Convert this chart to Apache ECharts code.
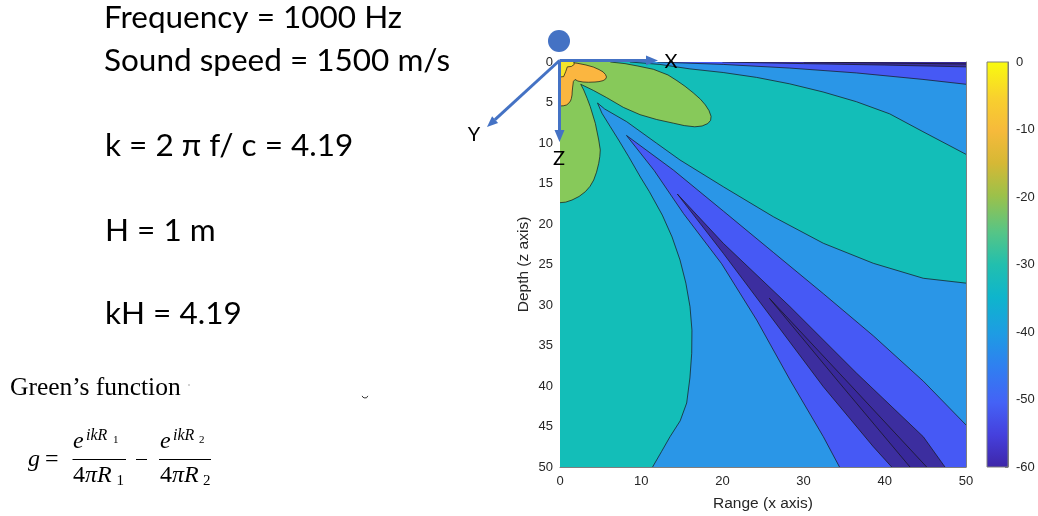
<!DOCTYPE html>
<html>
<head>
<meta charset="utf-8">
<title>Lloyd mirror field</title>
<script src="https://cdn.jsdelivr.net/npm/echarts@6/dist/echarts.min.js"></script>
<style>
  html, body { margin: 0; padding: 0; background: #fff; }
  #main { width: 1038px; height: 516px; }
</style>
</head>
<body>
<div id="main"></div>
<script>
// tick labels
const rangeTicks = [0, 10, 20, 30, 40, 50];
const depthTicks = [0, 5, 10, 15, 20, 25, 30, 35, 40, 45, 50];
const levelTicks = [-60, -50, -40, -30, -20, -10, 0];

// contour band outlines, [range, depth]
// (points at -1 / 51 sit outside the box and get clipped)
const tealBase = [[-1, -1], [51, -1], [51, 51], [-1, 51]];
const lbTop = [[8.6, -1], [8.6, 0], [12.3, 0.3], [16.0, 0.85], [20.1, 1.3], [24.2, 1.9], [28.3, 2.7],
  [32.4, 3.7], [36.5, 4.9], [40.6, 6.4], [44.7, 8.6], [50, 11.4], [51, 11.9], [51, -1]];
const lbLobe = [[4.62, 5.06], [5.17, 6.33], [6.19, 7.98], [7.22, 9.63], [8.46, 11.69], [9.9, 14.2],
  [11.0, 16.0], [12.6, 18.9], [13.8, 21.6], [14.78, 24.44], [15.5, 27.3], [16.01, 30.21], [16.25, 33.1],
  [16.22, 35.96], [16.0, 39.0], [15.6, 42.1], [14.8, 44.3], [13.55, 46.26], [12.5, 48.1], [11.4, 50],
  [11.0, 51], [51, 51], [51, 27.3], [50, 27.3], [44.74, 26.7], [38.58, 24.85], [32.43, 22.38],
  [26.27, 19.1], [20.11, 15.4], [14.78, 12.1], [11.91, 10.04], [8.21, 7.37], [5.5, 5.8]];
const blueTop = [[12, -1], [12, 0], [20.1, 0.3], [28.3, 0.75], [36.5, 1.35], [44.7, 2.15], [50, 2.75], [51, 2.9], [51, -1]];
const blueLobe = [[8.19, 9.07], [11.6, 13.4], [15.2, 18.7], [19.9, 24.9], [24.22, 31.85], [28.33, 39.26],
  [32.43, 46.26], [34.42, 50], [34.9, 51], [51, 51], [51, 44.81], [50, 44.81], [44.74, 39.4],
  [38.58, 33.8], [32.43, 28.6], [26.27, 23.5], [20.11, 18.4], [13.95, 13.33]];
const indigoTop = [[20, -1], [20, 0], [30, 0.2], [40, 0.38], [50, 0.6], [51, 0.62], [51, -1]];
const indigoLobe = [[14.45, 16.3], [20.11, 23.62], [26.27, 31.85], [32.43, 40.09], [38.58, 47.49],
  [40.85, 50], [41.6, 51], [48.4, 51], [47.41, 50], [44.74, 46.26], [36.54, 38.43], [28.33, 30.21],
  [20.11, 22.38]];
const darkTop = [[30, -1], [30, 0], [40, 0.12], [50, 0.25], [51, 0.26], [51, -1]];
const darkLobe = [[25.78, 29.17], [34.4, 39.6], [43.1, 50], [43.9, 51], [45.9, 51], [45.16, 50], [35.5, 39.6]];
const greenLobe = [[-1, -1], [6.2, -1], [6.2, 0], [8.0, 0.2], [9.6, 0.5], [11.5, 0.9], [13.3, 1.6],
  [14.4, 2.3], [15.4, 3.0], [16.4, 3.8], [17.3, 4.6], [17.9, 5.3], [18.35, 6.0], [18.6, 6.7],
  [18.55, 7.2], [18.2, 7.6], [17.5, 7.9], [16.6, 8.0], [15.3, 7.85], [13.95, 7.55], [11.9, 7.1],
  [9.85, 6.5], [7.8, 5.6], [5.75, 4.4], [4.1, 3.5], [2.55, 2.75], [2.92, 3.46], [3.35, 4.5], [3.73, 5.52],
  [4.35, 7.57], [4.77, 9.63], [4.96, 10.86], [4.9, 11.7], [4.77, 12.51], [4.5, 13.6], [4.15, 14.57],
  [3.7, 15.35], [3.12, 16.01], [2.35, 16.6], [1.48, 17.04], [0.7, 17.3], [0, 17.37], [-1, 17.37]];
const orangeLobe = [[-1, -1], [0.9, -1], [0.9, 0], [2.1, 0.15], [3.2, 0.37], [4.1, 0.62], [4.8, 0.93],
  [5.3, 1.22], [5.6, 1.55], [5.73, 1.85], [5.6, 2.12], [5.3, 2.3], [4.8, 2.42], [4.31, 2.47],
  [3.5, 2.5], [2.83, 2.47], [2.2, 2.35], [1.85, 2.16], [1.65, 2.4], [1.56, 3.09], [1.5, 3.7],
  [1.48, 4.07], [1.4, 4.5], [1.29, 4.81], [1.05, 5.12], [0.8, 5.31], [0.4, 5.41], [0, 5.43], [-1, 5.43]];
const yellowCore = [[-1, -1], [1.7, -1], [1.7, 0], [1.75, 0.3], [1.4, 0.55], [0.9, 0.6], [0.7, 1.2],
  [0.45, 1.8], [0, 1.85], [-1, 1.85]];

const bands = [
  ['teal', tealBase], ['lightBlue', lbTop], ['lightBlue', lbLobe], ['blue', blueTop], ['blue', blueLobe],
  ['indigo', indigoTop], ['indigo', indigoLobe], ['dark', darkTop], ['dark', darkLobe],
  ['green', greenLobe], ['orange', orangeLobe], ['yellow', yellowCore]
];

const bandColor = {
  teal: '#13BEB8', lightBlue: '#2A96E7', blue: '#4659F5', indigo: '#3C2E9F', dark: '#38289A',
  green: '#87C95A', orange: '#FBB640', yellow: '#F4E42A'
};
const parula = [
  [0, '#3E26A8'], [0.08, '#4540DD'], [0.16, '#4462F6'], [0.25, '#2F80F0'], [0.33, '#1E9CE3'],
  [0.42, '#0EB5CC'], [0.5, '#22BFAE'], [0.58, '#56C586'], [0.67, '#9CC14A'], [0.75, '#D6B835'],
  [0.83, '#F6BA3B'], [0.91, '#F8D02E'], [1, '#F9FB0E']
];

const blue = '#4472C4';
const calibri = 'Lato, "Open Sans", sans-serif';
const serif = '"Liberation Serif", "DejaVu Serif", serif';

function txt(x, y, text, font, align) {
  return {
    type: 'text', x: x, y: y, z: 100, silent: true,
    style: { text: text, font: font, fill: '#000', align: align || 'left', verticalAlign: 'middle' }
  };
}
function frac(x, y, idx) {
  // denominator "4 pi R" with upright 4, italic pi R
  return {
    type: 'text', x: x, y: y, z: 100, silent: true,
    style: {
      text: '{n|4}{i|\u03c0R}', fill: '#000', verticalAlign: 'middle',
      rich: { n: { font: '24px ' + serif }, i: { font: 'italic 24px ' + serif } }
    }
  };
}
function rule(x1, x2, y) {
  return { type: 'line', z: 100, silent: true, shape: { x1: x1, y1: y, x2: x2, y2: y }, style: { stroke: '#000', lineWidth: 1 } };
}
function arrowLine(x1, y1, x2, y2) {
  return { type: 'line', z: 100, silent: true, shape: { x1: x1, y1: y1, x2: x2, y2: y2 }, style: { stroke: blue, lineWidth: 3 } };
}
function arrowHead(points) {
  return { type: 'polygon', z: 100, silent: true, shape: { points: points }, style: { fill: blue } };
}

const chart = echarts.init(document.getElementById('main'));

const axisGrey = '#7f7f7f';
const labelColor = '#262626';
const boxAxis = function (extra) {
  return Object.assign({
    type: 'value', splitLine: { show: false },
    axisLine: { show: true, onZero: false, lineStyle: { color: axisGrey, width: 1 } },
    axisTick: { show: true, inside: true, length: 4, lineStyle: { color: axisGrey } },
    axisLabel: { show: false }
  }, extra);
};

chart.setOption({
  animation: false,
  backgroundColor: '#fff',
  textStyle: { fontFamily: '"Liberation Sans", Arial, sans-serif' },
  grid: [
    { left: 560, top: 62, width: 406, height: 405, outerBoundsMode: 'none' },
    { left: 987, top: 62, width: 21, height: 405, outerBoundsMode: 'none' }
  ],
  xAxis: [
    boxAxis({
      gridIndex: 0, position: 'bottom', min: rangeTicks[0], max: rangeTicks[rangeTicks.length - 1], interval: 10,
      axisLabel: { show: true, color: labelColor, fontSize: 13, margin: 8 },
      name: 'Range (x axis)', nameLocation: 'middle', nameGap: 29,
      nameTextStyle: { color: labelColor, fontSize: 15.5 }
    }),
    boxAxis({ gridIndex: 0, position: 'top', min: 0, max: 50, interval: 10 }),
    { type: 'value', gridIndex: 1, min: 0, max: 1, show: false }
  ],
  yAxis: [
    boxAxis({
      gridIndex: 0, position: 'left', inverse: true,
      min: depthTicks[0], max: depthTicks[depthTicks.length - 1], interval: 5,
      axisLabel: { show: true, color: labelColor, fontSize: 13, margin: 7 },
      name: 'Depth (z axis)', nameLocation: 'middle', nameGap: 28,
      nameTextStyle: { color: labelColor, fontSize: 15.5 }
    }),
    boxAxis({ gridIndex: 0, position: 'right', inverse: true, min: 0, max: 50, interval: 5 }),
    boxAxis({
      gridIndex: 1, position: 'right', min: levelTicks[0], max: levelTicks[levelTicks.length - 1], interval: 10,
      axisTick: { show: true, inside: true, length: 3, lineStyle: { color: axisGrey } },
      axisLabel: { show: true, color: labelColor, fontSize: 13, margin: 8 }
    })
  ],
  series: [
    {
      type: 'custom', name: 'field', xAxisIndex: 0, yAxisIndex: 0, clip: true, silent: true,
      data: bands.map(function (b, i) { return [i, i]; }),
      renderItem: function (params, api) {
        const band = bands[params.dataIndex];
        const pts = band[1].map(function (p) { return api.coord(p); });
        return {
          type: 'polygon', shape: { points: pts },
          style: {
            fill: bandColor[band[0]],
            stroke: band[0] === 'teal' ? null : '#151515',
            lineWidth: 0.7
          }
        };
      }
    },
    {
      type: 'custom', name: 'colorbar', xAxisIndex: 2, yAxisIndex: 2, silent: true,
      data: [[0, levelTicks[0]]],
      renderItem: function (params, api) {
        const lo = api.coord([0, levelTicks[0]]);
        const hi = api.coord([1, levelTicks[levelTicks.length - 1]]);
        return {
          type: 'rect',
          shape: { x: lo[0], y: hi[1], width: hi[0] - lo[0], height: lo[1] - hi[1] },
          style: {
            fill: new echarts.graphic.LinearGradient(0, 1, 0, 0,
              parula.map(function (s) { return { offset: s[0], color: s[1] }; })),
            stroke: axisGrey, lineWidth: 1
          }
        };
      }
    }
  ],
  graphic: [
    // slide text
    txt(104, 18, 'Frequency = 1000 Hz', '31.5px ' + calibri),
    txt(104, 61, 'Sound speed = 1500 m/s', '31.5px ' + calibri),
    txt(105, 146, 'k = 2 \u03c0 f/ c = 4.19', '31.5px ' + calibri),
    txt(105, 231, 'H = 1 m', '31.5px ' + calibri),
    txt(105, 314, 'kH = 4.19', '31.5px ' + calibri),
    txt(10, 388, 'Green\u2019s function', '25.5px ' + serif),
    { type: 'circle', z: 100, silent: true, shape: { cx: 189, cy: 385, r: 0.8 }, style: { fill: '#999' } },
    { type: 'arc', z: 100, silent: true, shape: { cx: 365, cy: 395, r: 3, startAngle: 0.3, endAngle: Math.PI - 0.3 },
      style: { stroke: '#333', lineWidth: 1, fill: null } },

    // g = e^{ikR1}/(4 pi R1) - e^{ikR2}/(4 pi R2)
    txt(28, 460, 'g', 'italic 24px ' + serif),
    txt(45, 460, '=', '24px ' + serif),
    txt(73, 442, 'e', 'italic 24px ' + serif),
    txt(86, 436, 'ikR', 'italic 16px ' + serif),
    txt(113, 440, '1', '11px ' + serif),
    rule(72.5, 126, 459.5),
    frac(73, 476),
    txt(116.5, 481, '1', '15px ' + serif),
    rule(136, 147, 459.5),
    txt(160, 442, 'e', 'italic 24px ' + serif),
    txt(173, 436, 'ikR', 'italic 16px ' + serif),
    txt(199, 440, '2', '11px ' + serif),
    rule(159, 211, 459.5),
    frac(160, 476),
    txt(203, 481, '2', '15px ' + serif),

    // coordinate sketch over the plot corner
    { type: 'circle', z: 100, silent: true, shape: { cx: 559, cy: 41, r: 11 }, style: { fill: blue } },
    arrowLine(559.5, 60.5, 648, 60.5),
    arrowHead([[658, 60.5], [646, 55.5], [646, 65.5]]),
    arrowLine(559.5, 60.5, 559.5, 132),
    arrowHead([[559.5, 142], [554.5, 130], [564.5, 130]]),
    arrowLine(559.5, 60.5, 495, 119.6),
    arrowHead([[487, 127], [498.1, 122.9], [492.1, 116.3]]),
    txt(671, 62, 'X', '20px ' + calibri, 'center'),
    txt(474, 135, 'Y', '20px ' + calibri, 'center'),
    txt(559, 159, 'Z', '20px ' + calibri, 'center')
  ]
});
</script>
</body>
</html>
